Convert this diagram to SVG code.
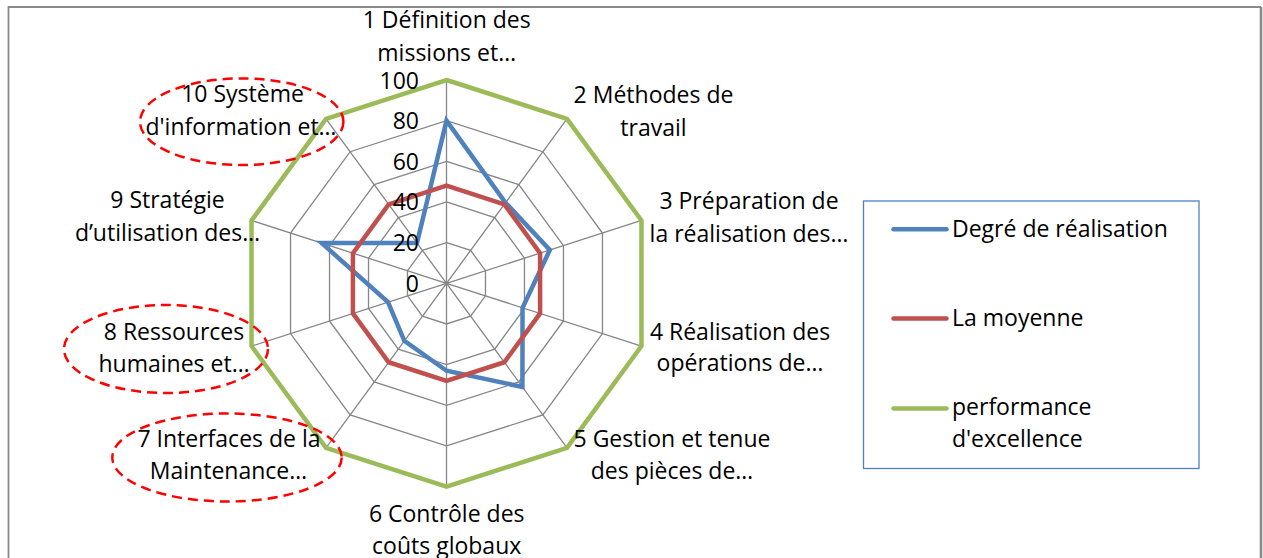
<svg xmlns="http://www.w3.org/2000/svg" width="1263" height="558" viewBox="0 0 1263 558">
  <style>
    text { font-family: "Open Sans", "Liberation Sans", sans-serif; font-size: 23px; fill: #000; }
    .lbl { text-anchor: middle; }
    .val { text-anchor: end; }
    .grid { fill: none; stroke: #868686; stroke-width: 1.3; vector-effect: non-scaling-stroke; }
    .series { fill: none; stroke-width: 4.5; stroke-linejoin: miter; vector-effect: non-scaling-stroke; }
    .s-blue { stroke: #4F81BD; }
    .s-red { stroke: #C0504D; }
    .s-green { stroke: #9BBB59; }
    .key { stroke-width: 4.5; stroke-linecap: round; }
    .mark { fill: none; stroke: #FF0000; stroke-width: 2.5; stroke-dasharray: 10 6; }
  </style>

  <rect width="1263" height="558" fill="#fff"/>

  <!-- chart frame -->
  <g id="frame" fill="none" stroke="#8a8a8a">
    <path d="M8.5,560 V7 H1261" stroke-width="1.8"/>
    <path d="M1261,7 V560" stroke-width="2.6"/>
  </g>

  <!-- radar plot: origin at the centre, 100 units = full radius -->
  <g id="radar" transform="translate(446.5,283.3) scale(2.05,2.033)">
    <g id="grid">
      <polygon class="grid" points="0,-20 11.76,-16.18 19.02,-6.18 19.02,6.18 11.76,16.18 0,20 -11.76,16.18 -19.02,6.18 -19.02,-6.18 -11.76,-16.18"/>
      <polygon class="grid" points="0,-40 23.51,-32.36 38.04,-12.36 38.04,12.36 23.51,32.36 0,40 -23.51,32.36 -38.04,12.36 -38.04,-12.36 -23.51,-32.36"/>
      <polygon class="grid" points="0,-60 35.27,-48.54 57.06,-18.54 57.06,18.54 35.27,48.54 0,60 -35.27,48.54 -57.06,18.54 -57.06,-18.54 -35.27,-48.54"/>
      <polygon class="grid" points="0,-80 47.02,-64.72 76.08,-24.72 76.08,24.72 47.02,64.72 0,80 -47.02,64.72 -76.08,24.72 -76.08,-24.72 -47.02,-64.72"/>
      <polygon class="grid" points="0,-100 58.78,-80.9 95.11,-30.9 95.11,30.9 58.78,80.9 0,100 -58.78,80.9 -95.11,30.9 -95.11,-30.9 -58.78,-80.9"/>
      <path class="grid" d="M0,0 L0,-100 M0,0 L58.78,-80.9 M0,0 L95.11,-30.9 M0,0 L95.11,30.9 M0,0 L58.78,80.9 M0,0 L0,100 M0,0 L-58.78,80.9 M0,0 L-95.11,30.9 M0,0 L-95.11,-30.9 M0,0 L-58.78,-80.9"/>
    </g>
    <g id="series-lines">
      <!-- Degré de réalisation -->
      <polygon id="serie-realisation" class="series s-blue" points="0,-80 28.8,-39.64 50.41,-16.38 37.09,12.05 37.03,50.97 0,43 -20.57,28.32 -28.53,9.27 -60.87,-19.78 -14.4,-19.82"/>
      <!-- La moyenne -->
      <polygon id="serie-moyenne" class="series s-red" points="0,-48 28.21,-38.83 45.65,-14.83 45.65,14.83 28.21,38.83 0,48 -28.21,38.83 -45.65,14.83 -45.65,-14.83 -28.21,-38.83"/>
      <!-- performance d'excellence -->
      <polygon id="serie-excellence" class="series s-green" points="0,-100 58.78,-80.9 95.11,-30.9 95.11,30.9 58.78,80.9 0,100 -58.78,80.9 -95.11,30.9 -95.11,-30.9 -58.78,-80.9"/>
    </g>
  </g>

  <!-- scale values -->
  <g id="scale">
    <text class="val" x="419" y="88.5">100</text>
    <text class="val" x="419" y="129">80</text>
    <text class="val" x="419" y="169.6">60</text>
    <text class="val" x="419" y="210.3">40</text>
    <text class="val" x="419" y="251">20</text>
    <text class="val" x="419" y="291.6">0</text>
  </g>

  <!-- axis captions -->
  <g id="axis-1"><text class="lbl" x="446.7" y="27.5">1 Définition des</text><text class="lbl" x="446.7" y="60.5">missions et…</text></g>
  <g id="axis-2"><text class="lbl" x="653.5" y="103.3">2 Méthodes de</text><text class="lbl" x="653.5" y="135.5">travail</text></g>
  <g id="axis-3"><text class="lbl" x="749" y="209.3">3 Préparation de</text><text class="lbl" x="749" y="242">la réalisation des…</text></g>
  <g id="axis-4"><text class="lbl" x="740" y="340">4 Réalisation des</text><text class="lbl" x="740" y="371">opérations de…</text></g>
  <g id="axis-5"><text class="lbl" x="672" y="446.7">5 Gestion et tenue</text><text class="lbl" x="672" y="479">des pièces de…</text></g>
  <g id="axis-6"><text class="lbl" x="446.7" y="521.7">6 Contrôle des</text><text class="lbl" x="446.7" y="553.5">coûts globaux</text></g>
  <g id="axis-7"><text class="lbl" x="229" y="446.7">7 Interfaces de la</text><text class="lbl" x="228.5" y="479">Maintenance…</text></g>
  <g id="axis-8"><text class="lbl" x="174" y="340">8 Ressources</text><text class="lbl" x="174" y="371.7">humaines et…</text></g>
  <g id="axis-9"><text class="lbl" x="167.5" y="208.3">9 Stratégie</text><text class="lbl" x="167.5" y="240.5">d’utilisation des…</text></g>
  <g id="axis-10"><text class="lbl" x="242.5" y="101.7">10 Système</text><text class="lbl" x="241" y="135">d'information et…</text></g>

  <!-- highlighted axes -->
  <g id="highlights">
    <ellipse class="mark" cx="241.7" cy="121.7" rx="101.7" ry="43.3"/>
    <ellipse class="mark" cx="166" cy="349" rx="102" ry="44"/>
    <ellipse class="mark" cx="227" cy="457.5" rx="114.7" ry="44"/>
  </g>

  <!-- legend -->
  <g id="legend">
    <rect x="863.5" y="201" width="335.5" height="267.5" fill="#fff" stroke="#4F81BD" stroke-width="1.3"/>
    <line class="key s-blue" x1="893.5" y1="229.3" x2="946.5" y2="229.3"/>
    <text x="952" y="236.7">Degré de réalisation</text>
    <line class="key s-red" x1="893.5" y1="318.5" x2="946.5" y2="318.5"/>
    <text x="952" y="326">La moyenne</text>
    <line class="key s-green" x1="893.5" y1="408.5" x2="946.5" y2="408.5"/>
    <text x="952" y="415">performance</text>
    <text x="952" y="447.3">d'excellence</text>
  </g>
</svg>
